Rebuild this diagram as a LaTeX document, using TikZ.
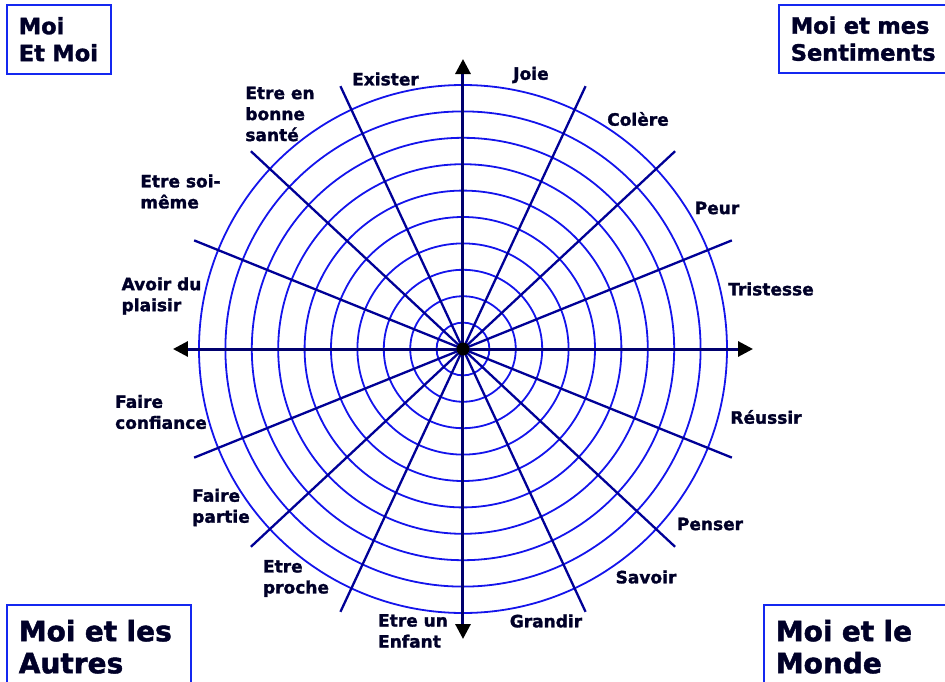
\documentclass[tikz,border=0pt]{standalone}
\usepackage{fontspec}
\setmainfont{DejaVu Sans}[BoldFeatures={FakeBold=1.6}]
\usetikzlibrary{arrows.meta}

\definecolor{ringblue}{RGB}{20,20,235}
\definecolor{spokeblue}{RGB}{0,0,150}
\definecolor{axisblue}{RGB}{0,0,110}
\definecolor{inkblue}{RGB}{0,0,40}
\definecolor{boxblue}{RGB}{20,40,240}

\begin{document}
\begin{tikzpicture}[x=1pt, y=1pt,
    lbl/.style={font=\bfseries\fontsize{17}{21}\selectfont, text=inkblue, align=left, inner sep=0pt},
    corner/.style={draw=boxblue, line width=1.6pt, anchor=north west, align=left, inner xsep=12pt, text=inkblue},
    ring/.style={draw=ringblue, line width=1.8pt},
    spoke/.style={draw=spokeblue, line width=2.3pt},
    axis/.style={draw=axisblue, line width=3pt, {Triangle[length=15pt,width=15pt,color=black]}-{Triangle[length=15pt,width=15pt,color=black]}}]
    \useasboundingbox (-463,-332) rectangle (482,349);
    \coordinate (O) at (0,0);
    % rings and spokes
    \foreach \r in {1,...,10} \draw[ring] (O) circle ({\r*26.4pt});
    \foreach \a in {22,43,65,115,137,158} \draw[spoke] (\a:290) -- (\a+180:290);
    \draw[axis] (180:290) -- (0:290);
    \draw[axis] (270:290) -- (90:290);
    \fill (O) circle (6.5pt);
    % sector labels
    \node[lbl] (joie) at (68,274) {Joie};
    \node[lbl] (colere) at (175,230) {Colère};
    \node[lbl] (peur) at (254,141) {Peur};
    \node[lbl] (tristesse) at (308,60) {Tristesse};
    \node[lbl] (reussir) at (303,-68) {Réussir};
    \node[lbl] (penser) at (247,-175) {Penser};
    \node[lbl] (savoir) at (183,-228) {Savoir};
    \node[lbl] (grandir) at (83,-272) {Grandir};
    \node[lbl] (enfant) at (-50,-282) {Etre un\\Enfant};
    \node[lbl] (proche) at (-167,-229.5) {Etre\\proche};
    \node[lbl] (partie) at (-242,-158.5) {Faire\\partie};
    \node[lbl] (confiance) at (-302,-63) {Faire\\confiance};
    \node[lbl] (plaisir) at (-301.5,53) {Avoir du\\plaisir};
    \node[lbl] (soimeme) at (-282.5,157.5) {Etre soi-\\même};
    \node[lbl] (sante) at (-183,235) {Etre en\\bonne\\santé};
    \node[lbl] (exister) at (-77.5,270) {Exister};
    % corner boxes
    \node[corner, font=\bfseries\fontsize{22.5}{27}\selectfont, text width=80pt, minimum height=69pt] (moimoi) at (-457,345) {Moi\\Et Moi};
    \node[corner, font=\bfseries\fontsize{22.5}{27}\selectfont, text width=160pt, minimum height=68pt] (sentiments) at (315,345) {Moi et mes\\Sentiments};
    \node[corner, font=\bfseries\fontsize{28}{32}\selectfont, text width=160pt, minimum height=84pt] (autres) at (-457,-255) {Moi et les\\Autres};
    \node[corner, font=\bfseries\fontsize{28}{32}\selectfont, text width=170pt, minimum height=84pt] (monde) at (300,-255) {Moi et le\\Monde};
\end{tikzpicture}
\end{document}
